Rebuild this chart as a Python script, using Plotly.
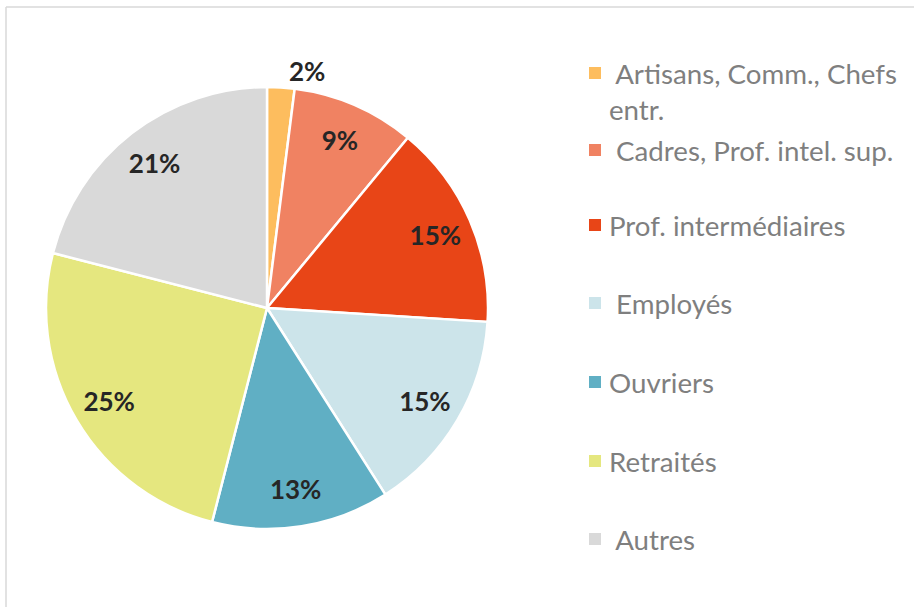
import plotly.graph_objects as go

# Répartition par catégorie socio-professionnelle
categories = [
    "Artisans, Comm., Chefs entr.",
    "Cadres, Prof. intel. sup.",
    "Prof. intermédiaires",
    "Employés",
    "Ouvriers",
    "Retraités",
    "Autres",
]
legend_labels = [
    " Artisans, Comm., Chefs<br>entr.",
    " Cadres, Prof. intel. sup.",
    "Prof. intermédiaires",
    " Employés",
    "Ouvriers",
    "Retraités",
    " Autres",
]
shares = [2, 9, 15, 15, 13, 25, 21]
colors = ["#FDBD5E", "#F08262", "#E84517", "#CCE4EA", "#60AFC4", "#E5E77F", "#D9D9D9"]
label_positions = ["outside", "inside", "inside", "inside", "inside", "inside", "inside"]

W, H = 914, 607
FONT = "Lato"
pie_domain = dict(x=[46 / W, 488 / W], y=[(H - 529) / H, (H - 87) / H])

# Filled slices
fig = go.Figure(
    go.Pie(
        labels=categories,
        values=shares,
        sort=False,
        direction="clockwise",
        rotation=0,
        marker=dict(colors=colors, line=dict(color="white", width=2.5)),
        textinfo="none",
        automargin=False,
        showlegend=False,
        hoverinfo="label+percent",
        domain=pie_domain,
    )
)

# Transparent ring on top carrying the percentage labels near the rim
fig.add_trace(
    go.Pie(
        labels=categories,
        values=shares,
        sort=False,
        direction="clockwise",
        rotation=0,
        hole=0.66,
        marker=dict(colors=["rgba(0,0,0,0)"] * len(shares), line=dict(width=0)),
        texttemplate="%{value}%",
        textposition=label_positions,
        insidetextorientation="horizontal",
        textfont=dict(family=FONT, size=26, color="#262626", weight="bold"),
        outsidetextfont=dict(family=FONT, size=26, color="#262626", weight="bold"),
        automargin=False,
        showlegend=False,
        hoverinfo="skip",
        domain=pie_domain,
    )
)

# Legend drawn as markers + text so the row spacing follows the layout
legend_rows_y = [73, 150, 225, 303, 382, 461, 539]
for lab, col, y in zip(legend_labels, colors, legend_rows_y):
    fig.add_shape(
        type="rect", xref="paper", yref="paper",
        x0=589 / W, x1=601 / W, y0=(H - y - 6) / H, y1=(H - y + 6) / H,
        fillcolor=col, line=dict(width=0),
    )
    fig.add_annotation(
        x=607 / W, y=(H - y + 18) / H, xref="paper", yref="paper",
        xanchor="left", yanchor="top", align="left",
        text=lab, showarrow=False,
        font=dict(family=FONT, size=27.7, color="#7F7F7F"),
    )

# Chart frame (top and left edges)
fig.add_shape(type="line", xref="paper", yref="paper",
              x0=6 / W, x1=1, y0=(H - 7) / H, y1=(H - 7) / H,
              line=dict(color="#D9D9D9", width=1.5))
fig.add_shape(type="line", xref="paper", yref="paper",
              x0=6 / W, x1=6 / W, y0=0, y1=(H - 7) / H,
              line=dict(color="#D9D9D9", width=1.5))

fig.update_layout(
    width=W, height=H,
    margin=dict(l=0, r=0, t=0, b=0),
    paper_bgcolor="white",
    plot_bgcolor="white",
    uniformtext=dict(minsize=26, mode="show"),
)

fig.write_html("out.html")
